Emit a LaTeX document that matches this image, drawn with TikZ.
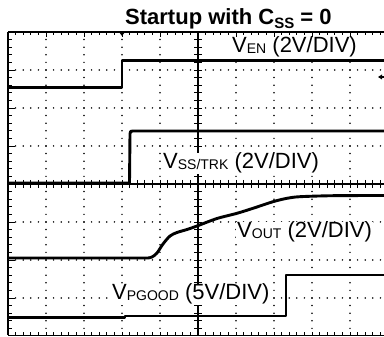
\documentclass[tikz,border=0pt]{standalone}
\usepackage{fontspec}
\setmainfont{Liberation Sans}
\newcommand\lsub[1]{\raisebox{-1pt}{\fontsize{14}{14}\selectfont #1}}
\begin{document}
\begin{tikzpicture}[x=1pt,y=-1pt,
  trace/.style={line width=2.9pt, line join=round, line cap=butt},
  axisline/.style={line width=1.2pt},
  tick/.style={line width=0.9pt},
  lbl/.style={anchor=base west, inner xsep=1pt, inner ysep=0.5pt, fill=white, font=\fontsize{22}{22}\selectfont}]
\useasboundingbox (0,0) rectangle (384,337);
\fill[white] (0,0) rectangle (384,337);
% dotted graticule
\foreach \k in {1,2,3,4,6,7,8,9} {
  \foreach \m in {1,...,39} { \fill ({8+38*\k},{32+7.6*\m}) circle (0.85); }
}
\foreach \j in {1,2,3,5,6,7} {
  \foreach \m in {1,...,49} { \fill ({8+7.6*\m},{32+38*\j}) circle (0.85); }
}
% borders
\draw[axisline] (8,32) -- (384,32);
\draw[axisline] (8,32) -- (8,335.5);
\draw[axisline] (8,335.5) -- (384,335.5);
% center axes
\draw[axisline] (198,32) -- (198,335.5);
\draw[axisline] (8,184) -- (384,184);
% ticks
\foreach \m in {1,...,49} {
  \draw[tick] ({8+7.6*\m},180) -- ({8+7.6*\m},188);
  \draw[tick] ({8+7.6*\m},32) -- ({8+7.6*\m},35);
  \draw[tick] ({8+7.6*\m},335.5) -- ({8+7.6*\m},332);
}
\foreach \m in {1,...,39} {
  \draw[tick] (194,{32+7.6*\m}) -- (202,{32+7.6*\m});
  \draw[tick] (8,{32+7.6*\m}) -- (12,{32+7.6*\m});
}
\foreach \k in {1,...,9} { \draw[tick] ({8+38*\k},32) -- ({8+38*\k},37); }
\foreach \j in {1,...,7} { \draw[tick] (8,{32+38*\j}) -- (15,{32+38*\j}); }
% markers
\fill (119,32) -- (125,32) -- (122,36) -- cycle;
\draw[line width=1.2pt] (384,77) -- (380,77);
\fill (378,77) -- (382,74.5) -- (382,79.5) -- cycle;
% traces
\draw[trace] (8,87.5) -- (122,87.5) -- (122,60.5) -- (384,60.5);
\draw[trace] (8,183) -- (129.5,183) -- (130,134) .. controls (130.3,131) .. (133,131) -- (384,131);
\draw[trace] (8,258) -- (148,258) plot[smooth, tension=0.5] coordinates {(148,258) (152,257) (157,253) (163,244) (170,236) (177,232.5) (187,229.5) (197,226) (217,218.5) (237,213.3) (253,208.3) (273,201.7) (287,198.3) (300,196.7) (333,195.7) (384,195.5)};
\draw[trace] (8,317.5) -- (125,317.5) -- (125,316) -- (286,316) -- (286,275) -- (384,275);
% labels
\node[anchor=base west, inner sep=0pt, font=\bfseries\fontsize{22}{22}\selectfont] (title) at (125,25)
  {Startup with C\raisebox{-4pt}{\fontsize{15}{15}\selectfont SS} = 0};
\node[lbl] (ven) at (231,53) {V\lsub{EN} (2V/DIV)};
\node[lbl] (vss) at (162,169) {V\lsub{SS/TRK} (2V/DIV)};
\node[lbl] (vout) at (236,238) {V\lsub{OUT} (2V/DIV)};
\node[lbl] (vpg) at (111,300) {V\lsub{PGOOD} (5V/DIV)};
\end{tikzpicture}
\end{document}
